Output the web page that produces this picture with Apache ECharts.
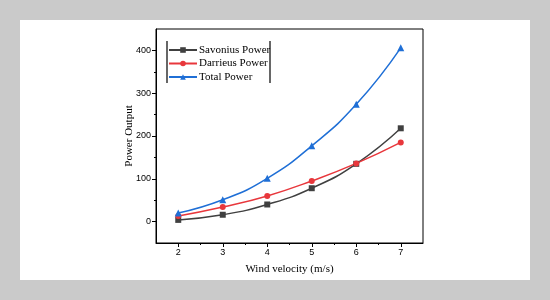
<!DOCTYPE html>
<html>
<head>
<meta charset="utf-8">
<script src="https://cdn.jsdelivr.net/npm/echarts@6/dist/echarts.min.js"></script>
<style>
  html, body { margin: 0; padding: 0; background: #cacaca; }
  #chart { position: absolute; left: 20px; top: 20px; width: 510px; height: 260px; background: #fff; }
</style>
</head>
<body>
<div id="chart"></div>
<script>
// x positions (wind velocity, m/s)
const velocity = [2, 3, 4, 5, 6, 7]
// power output
const savonius = [4, 16, 40, 78, 135, 218]
const darrieus = [13, 34, 60, 95, 136, 185]
const total = [20, 51, 101, 177, 274, 406]

const yLabels = [0, 100, 200, 300, 400]
const yMinor = [50, 150, 250, 350]
const xMinor = [2.5, 3.5, 4.5, 5.5, 6.5]

const pairs = (ys) => velocity.map((v, i) => [v, ys[i]])

const chart = echarts.init(document.getElementById('chart'))

const serif = '"Liberation Serif", "DejaVu Serif", serif'
const sans = '"Liberation Sans", Arial, sans-serif'

// chart div sits at (20,20) inside the grey frame
const grid = { left: 136, right: 107, top: 9, bottom: 37 }

const baseX = {
  type: 'value', min: 1.5, max: 7.5, gridIndex: 0,
  splitLine: { show: false }
}
const baseY = {
  type: 'value', min: -50, max: 450, gridIndex: 0,
  splitLine: { show: false }
}

chart.setOption({
  animation: false,
  grid: Object.assign({ show: true, borderColor: '#000', borderWidth: 1 }, grid),
  xAxis: [
    Object.assign({}, baseX, {
      name: 'Wind velocity (m/s)',
      nameLocation: 'middle',
      nameGap: 21,
      nameMoveOverlap: false,
      nameTextStyle: { fontFamily: serif, fontSize: 11, color: '#000' },
      axisLine: { onZero: false, lineStyle: { color: '#000', width: 1 } },
      axisTick: { length: 4, customValues: velocity, lineStyle: { color: '#000' } },
      axisLabel: { customValues: velocity, fontFamily: sans, fontSize: 9, color: '#000', margin: 5 }
    }),
    Object.assign({}, baseX, {
      position: 'bottom',
      axisLine: { show: false, onZero: false },
      axisTick: { length: 2, customValues: xMinor, lineStyle: { color: '#000' } },
      axisLabel: { show: false }
    })
  ],
  yAxis: [
    Object.assign({}, baseY, {
      name: 'Power Output',
      nameLocation: 'middle',
      nameGap: 21,
      nameMoveOverlap: false,
      nameTextStyle: { fontFamily: serif, fontSize: 11, color: '#000' },
      axisLine: { show: true, onZero: false, lineStyle: { color: '#000', width: 1 } },
      axisTick: { show: true, length: 4, customValues: yLabels, lineStyle: { color: '#000' } },
      axisLabel: { customValues: yLabels, fontFamily: sans, fontSize: 9, color: '#000', margin: 5 }
    }),
    Object.assign({}, baseY, {
      position: 'left',
      axisLine: { show: false, onZero: false },
      axisTick: { show: true, length: 2, customValues: yMinor, lineStyle: { color: '#000' } },
      axisLabel: { show: false }
    })
  ],
  legend: {
    orient: 'vertical',
    left: 148,
    top: 24,
    itemWidth: 28,
    itemHeight: 7,
    itemGap: 1.5,
    padding: 0,
    textStyle: { fontFamily: serif, fontSize: 11, color: '#000', padding: [0, 0, 0, -3], lineHeight: 12 },
    data: ['Savonius Power', 'Darrieus Power', 'Total Power']
  },
  // legend frame only has left and right sides
  graphic: [
    { type: 'line', shape: { x1: 147, y1: 21, x2: 147, y2: 63 }, style: { stroke: '#000', lineWidth: 1.2 } },
    { type: 'line', shape: { x1: 250, y1: 21, x2: 250, y2: 63 }, style: { stroke: '#000', lineWidth: 1.2 } }
  ],
  series: [
    {
      name: 'Savonius Power', type: 'line', smooth: true,
      symbol: 'rect', symbolSize: 6,
      lineStyle: { color: '#404040', width: 1.5 },
      itemStyle: { color: '#404040' },
      data: pairs(savonius)
    },
    {
      name: 'Darrieus Power', type: 'line', smooth: true,
      symbol: 'circle', symbolSize: 6,
      lineStyle: { color: '#e8373c', width: 1.5 },
      itemStyle: { color: '#e8373c' },
      data: pairs(darrieus)
    },
    {
      name: 'Total Power', type: 'line', smooth: true,
      symbol: 'triangle', symbolSize: 7,
      lineStyle: { color: '#1f6fd6', width: 1.5 },
      itemStyle: { color: '#1f6fd6' },
      data: pairs(total)
    }
  ]
})
</script>
</body>
</html>
